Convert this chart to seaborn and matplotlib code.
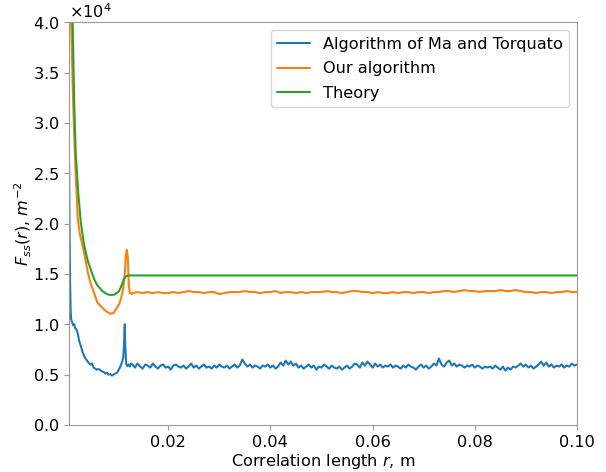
import numpy as np
import matplotlib
matplotlib.use("Agg")
import matplotlib.pyplot as plt
import seaborn as sns

# values in units of 1e4 m^-2

# theory
r_th = [0.0006, 0.0010, 0.0013, 0.0016, 0.0019, 0.0024, 0.0029, 0.0035, 0.0042,
        0.0050, 0.0055, 0.0061, 0.0071, 0.0080, 0.0087, 0.0095, 0.0104, 0.0109,
        0.0113, 0.0118, 0.0124, 0.1000]
F_th = [6.0, 4.8, 4.0, 3.2, 2.7, 2.3, 2.01, 1.80, 1.64,
        1.52, 1.45, 1.39, 1.33, 1.30, 1.29, 1.295, 1.33, 1.39,
        1.445, 1.48, 1.485, 1.485]

# our algorithm, steep part + peak
r_our_head = [0.0006, 0.0010, 0.0014, 0.0018, 0.0023, 0.0027, 0.0031, 0.0035, 0.0043,
              0.0048, 0.0055, 0.0061, 0.0068, 0.0074, 0.0081, 0.0087, 0.0093, 0.0099,
              0.0104, 0.0108, 0.0112, 0.0115, 0.0117, 0.0119, 0.0121, 0.0123, 0.0125,
              0.0129]
F_our_head = [6.0, 4.0, 3.2, 2.6, 2.05, 1.90, 1.81, 1.72, 1.51,
              1.41, 1.31, 1.22, 1.18, 1.15, 1.12, 1.105, 1.11, 1.16,
              1.20, 1.26, 1.36, 1.50, 1.68, 1.74, 1.66, 1.38, 1.31,
              1.30]
# tail, 0.013 .. 0.100 every 0.001
F_our_tail = [1.31, 1.32, 1.31, 1.32, 1.31, 1.32, 1.31, 1.31, 1.32, 1.31,
              1.32, 1.33, 1.32, 1.32, 1.31, 1.32, 1.32, 1.30, 1.31, 1.32,
              1.32, 1.32, 1.33, 1.32, 1.32, 1.31, 1.32, 1.32, 1.33, 1.31,
              1.32, 1.32, 1.31, 1.32, 1.31, 1.32, 1.32, 1.32, 1.33, 1.32,
              1.32, 1.31, 1.32, 1.33, 1.33, 1.32, 1.32, 1.31, 1.32, 1.31,
              1.31, 1.32, 1.31, 1.32, 1.32, 1.31, 1.32, 1.32, 1.31, 1.32,
              1.32, 1.33, 1.33, 1.32, 1.33, 1.34, 1.33, 1.33, 1.32, 1.33,
              1.33, 1.33, 1.34, 1.33, 1.33, 1.34, 1.33, 1.32, 1.32, 1.31,
              1.32, 1.32, 1.31, 1.32, 1.32, 1.33, 1.32, 1.32]

# Ma and Torquato
r_ma_head = [0.0006, 0.0007, 0.0008, 0.0009, 0.0010, 0.0012, 0.0014, 0.0016, 0.0018,
             0.0020, 0.0022, 0.0024, 0.0026, 0.0029, 0.0032, 0.0035, 0.0038, 0.0041,
             0.0044, 0.0048, 0.0051, 0.0054, 0.0057, 0.0060, 0.0064, 0.0068, 0.0071,
             0.0074, 0.0077, 0.0080, 0.0083, 0.0087, 0.0090, 0.0093, 0.0096, 0.0100,
             0.0104, 0.0107, 0.0110, 0.0112, 0.0113, 0.0115, 0.0116, 0.0118, 0.0120,
             0.0122, 0.0125, 0.0127]
F_ma_head = [2.6, 1.9, 1.4, 1.15, 1.05, 1.02, 0.99, 1.00, 0.96,
             0.95, 0.93, 0.88, 0.83, 0.785, 0.73, 0.69, 0.66, 0.64,
             0.62, 0.60, 0.61, 0.57, 0.56, 0.55, 0.555, 0.54, 0.53,
             0.525, 0.51, 0.52, 0.50, 0.505, 0.49, 0.50, 0.51, 0.52,
             0.555, 0.59, 0.63, 0.67, 0.75, 1.0, 0.78, 0.60, 0.585,
             0.60, 0.58, 0.61]
# tail, 0.013 .. 0.100 every 0.0005
F_ma_tail = [0.60, 0.57, 0.61, 0.58, 0.56, 0.60, 0.59, 0.57, 0.61, 0.58,
             0.56, 0.59, 0.60, 0.57, 0.58, 0.55, 0.59, 0.60, 0.58, 0.57,
             0.59, 0.56, 0.58, 0.61, 0.57, 0.59, 0.56, 0.58, 0.60, 0.57,
             0.58, 0.56, 0.59, 0.57, 0.60, 0.58, 0.57, 0.59, 0.56, 0.58,
             0.60, 0.57, 0.59, 0.65, 0.61, 0.58, 0.60, 0.57, 0.59, 0.58,
             0.56, 0.59, 0.58, 0.60, 0.57, 0.59, 0.56, 0.58, 0.62, 0.59,
             0.64, 0.60, 0.63, 0.59, 0.61, 0.57, 0.59, 0.56, 0.58, 0.60,
             0.57, 0.59, 0.55, 0.58, 0.57, 0.60, 0.58, 0.56, 0.59, 0.57,
             0.56, 0.58, 0.55, 0.57, 0.59, 0.56, 0.58, 0.61, 0.60, 0.57,
             0.62, 0.59, 0.63, 0.60, 0.57, 0.61, 0.58, 0.60, 0.57, 0.59,
             0.58, 0.60, 0.57, 0.59, 0.58, 0.56, 0.59, 0.57, 0.60, 0.58,
             0.57, 0.55, 0.58, 0.60, 0.57, 0.59, 0.56, 0.58, 0.61, 0.59,
             0.66, 0.60, 0.58, 0.62, 0.64, 0.59, 0.61, 0.58, 0.60, 0.59,
             0.57, 0.59, 0.58, 0.60, 0.57, 0.59, 0.58, 0.56, 0.58, 0.57,
             0.58, 0.56, 0.59, 0.57, 0.55, 0.58, 0.54, 0.57, 0.55, 0.58,
             0.57, 0.59, 0.61, 0.58, 0.60, 0.57, 0.59, 0.56, 0.58, 0.60,
             0.63, 0.59, 0.62, 0.58, 0.60, 0.57, 0.59, 0.58, 0.60, 0.57,
             0.59, 0.58, 0.61, 0.59, 0.60]

r_our = np.concatenate([r_our_head, np.linspace(0.013, 0.1, len(F_our_tail))])
F_our = np.concatenate([F_our_head, F_our_tail]) * 1e4
r_ma = np.concatenate([r_ma_head, np.linspace(0.013, 0.1, len(F_ma_tail))])
F_ma = np.concatenate([F_ma_head, F_ma_tail]) * 1e4
F_th = np.array(F_th) * 1e4

sns.set_style("ticks", {"axes.edgecolor": "0.6", "text.color": "black",
                        "xtick.color": "black", "ytick.color": "black",
                        "axes.labelcolor": "black"})
plt.rcParams['font.family'] = ['DejaVu Sans']
plt.rcParams['font.size'] = 11.6

fig, ax = plt.subplots(figsize=(6.06, 4.72), dpi=100)
fig.subplots_adjust(left=0.114, right=0.952, top=0.953, bottom=0.0996)

sns.lineplot(x=r_ma, y=F_ma, ax=ax, color="tab:blue", lw=1.5,
             label="Algorithm of Ma and Torquato", sort=False, estimator=None)
sns.lineplot(x=r_our, y=F_our, ax=ax, color="tab:orange", lw=1.5,
             label="Our algorithm", sort=False, estimator=None)
sns.lineplot(x=r_th, y=F_th, ax=ax, color="tab:green", lw=1.5,
             label="Theory", sort=False, estimator=None)

ax.set_xlim(0.0006, 0.1)
ax.set_ylim(0, 4e4)
ax.set_xticks([0.02, 0.04, 0.06, 0.08, 0.10])
ax.ticklabel_format(axis='y', style='sci', scilimits=(0, 0), useMathText=True)
ax.tick_params(labelsize=11.6, color='0.6', labelcolor='black')
ax.yaxis.get_offset_text().set_fontsize(11.6)

ax.set_xlabel("Correlation length $r$, m", fontsize=11.6, labelpad=2)
ax.set_ylabel("$F_{ss}(r)$, $m^{-2}$", fontsize=11.6, labelpad=-1)
ax.legend(loc="upper right", fontsize=11.6, labelspacing=0.6)

fig.savefig("out.png", dpi=100)
